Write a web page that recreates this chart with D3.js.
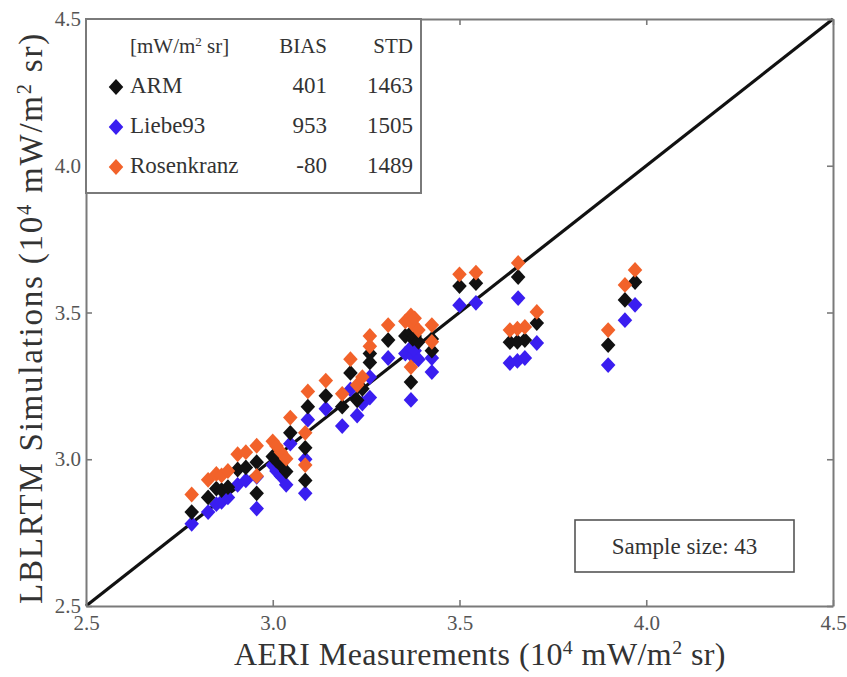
<!DOCTYPE html>
<html>
<head>
<meta charset="utf-8">
<script src="https://cdn.jsdelivr.net/npm/d3@7"></script>
<style>
  body { margin: 0; background: #fff; }
  text { font-family: "Liberation Serif", "Times New Roman", serif; }
</style>
</head>
<body>
<svg id="chart" width="847" height="677"></svg>
<script>
// AERI measured radiance vs. LBLRTM simulated radiance (10^4 mW/m^2 sr), 43 cases
const aeri = [2.783, 2.827, 2.849, 2.863, 2.880, 2.906, 2.928, 2.957, 2.957, 3.000,
              3.022, 3.036, 3.047, 3.087, 3.087, 3.094, 3.010, 3.142, 3.186, 3.208,
              3.226, 3.240, 3.260, 3.260, 3.309, 3.355, 3.370, 3.375, 3.370, 3.380,
              3.390, 3.426, 3.426, 3.500, 3.544, 3.657, 3.635, 3.675, 3.707, 3.898,
              3.943, 3.970, 3.655];
const arm = [2.820, 2.870, 2.900, 2.895, 2.905, 2.965, 2.972, 2.990, 2.884, 3.009,
             2.980, 2.958, 3.090, 3.039, 2.928, 3.179, 2.995, 3.216, 3.179, 3.294,
             3.201, 3.240, 3.360, 3.330, 3.406, 3.420, 3.430, 3.410, 3.263, 3.420,
             3.400, 3.410, 3.370, 3.590, 3.600, 3.621, 3.399, 3.406, 3.464, 3.389,
             3.543, 3.604, 3.400];
const liebe93 = [2.780, 2.820, 2.847, 2.855, 2.870, 2.913, 2.928, 2.940, 2.832, 2.980,
                 2.943, 2.913, 3.053, 3.000, 2.884, 3.135, 2.960, 3.172, 3.113, 3.238,
                 3.149, 3.190, 3.280, 3.210, 3.345, 3.360, 3.380, 3.350, 3.202, 3.370,
                 3.340, 3.345, 3.297, 3.525, 3.533, 3.549, 3.328, 3.345, 3.396, 3.321,
                 3.474, 3.526, 3.335];
const rosenkranz = [2.880, 2.930, 2.950, 2.945, 2.960, 3.017, 3.024, 3.046, 2.943, 3.061,
                    3.024, 3.002, 3.142, 3.090, 2.980, 3.231, 3.045, 3.268, 3.223, 3.341,
                    3.253, 3.280, 3.420, 3.385, 3.457, 3.470, 3.490, 3.460, 3.314, 3.480,
                    3.440, 3.457, 3.400, 3.630, 3.636, 3.669, 3.440, 3.451, 3.502, 3.440,
                    3.594, 3.645, 3.445];

const seriesNames = ["ARM", "Liebe93", "Rosenkranz"];
const seriesBias = [401, 953, -80];
const seriesStd = [1463, 1505, 1489];
const axisTicks = [2.5, 3.0, 3.5, 4.0, 4.5];
const sampleSize = 43;

const colors = { "ARM": "#111111", "Liebe93": "#3a1ef0", "Rosenkranz": "#f2622a" };
const seriesValues = { "ARM": arm, "Liebe93": liebe93, "Rosenkranz": rosenkranz };

const svg = d3.select("#chart");
const plotLeft = 86, plotRight = 833, plotTop = 19, plotBottom = 606;

const x = d3.scaleLinear().domain([2.5, 4.5]).range([plotLeft, plotRight]);
const y = d3.scaleLinear().domain([2.5, 4.5]).range([plotBottom, plotTop]);

// Diamond marker
const diamond = {
  draw(ctx, size) {
    const r = Math.sqrt(size / 2);
    const w = r * 0.92;
    ctx.moveTo(0, -r);
    ctx.lineTo(w, 0);
    ctx.lineTo(0, r);
    ctx.lineTo(-w, 0);
    ctx.closePath();
  }
};
const symbol = d3.symbol().type(diamond).size(125);

// 1:1 line
const diag = d3.line().x(d => x(d)).y(d => y(d));
svg.append("path")
  .attr("d", diag(x.domain()))
  .attr("stroke", "#111").attr("stroke-width", 3.2).attr("fill", "none");

// Scatter points: Liebe93 underneath, then ARM, then Rosenkranz
["Liebe93", "ARM", "Rosenkranz"].forEach(name => {
  svg.append("g")
    .selectAll("path")
    .data(aeri.map((a, i) => [a, seriesValues[name][i]]))
    .join("path")
    .attr("transform", d => `translate(${x(d[0])},${y(d[1])})`)
    .attr("d", symbol)
    .attr("fill", colors[name]);
});

// Axes with inward ticks on all four sides
const fmt = d3.format(".1f");
const axisColor = "#7a7a7a";
function styleAxis(g) {
  g.select(".domain").attr("stroke", axisColor).attr("stroke-width", 2);
  g.selectAll(".tick line").attr("stroke", axisColor).attr("stroke-width", 1.6);
  g.selectAll(".tick text").attr("fill", "#555").attr("font-size", 21)
    .attr("font-family", "'Liberation Serif', serif");
}
svg.append("g").attr("transform", `translate(0,${plotBottom})`)
  .call(d3.axisBottom(x).tickValues(axisTicks).tickFormat(fmt).tickSizeInner(-6).tickSizeOuter(0).tickPadding(9))
  .call(styleAxis);
svg.append("g").attr("transform", `translate(0,${plotTop})`)
  .call(d3.axisTop(x).tickValues(axisTicks).tickFormat("").tickSizeInner(-6).tickSizeOuter(0))
  .call(styleAxis);
svg.append("g").attr("transform", `translate(${plotLeft},0)`)
  .call(d3.axisLeft(y).tickValues(axisTicks).tickFormat(fmt).tickSizeInner(-6).tickSizeOuter(0).tickPadding(5))
  .call(styleAxis);
svg.append("g").attr("transform", `translate(${plotRight},0)`)
  .call(d3.axisRight(y).tickValues(axisTicks).tickFormat("").tickSizeInner(-6).tickSizeOuter(0))
  .call(styleAxis);

// Axis titles with superscripts
function unitTitle(g, pre) {
  g.append("tspan").text(pre + "(10");
  g.append("tspan").attr("baseline-shift", "super").attr("font-size", "0.62em").text("4");
  g.append("tspan").text(" mW/m");
  g.append("tspan").attr("baseline-shift", "super").attr("font-size", "0.62em").text("2");
  g.append("tspan").text(" sr)");
}
function fitWidth(t, target) {
  const n = t.text().length;
  const w = t.node().getComputedTextLength();
  t.attr("letter-spacing", ((target - w) / n).toFixed(2));
}
const xt = svg.append("text")
  .attr("x", 480).attr("y", 665).attr("text-anchor", "middle")
  .attr("font-size", 32).attr("fill", "#333");
unitTitle(xt, "AERI Measurements ");
fitWidth(xt, 492);

const yt = svg.append("text")
  .attr("transform", "translate(42,318) rotate(-90)")
  .attr("text-anchor", "middle")
  .attr("font-size", 33).attr("fill", "#333");
unitTitle(yt, "LBLRTM Simulations ");
fitWidth(yt, 572);

// Legend table
const lg = svg.append("g");
lg.append("rect")
  .attr("x", plotLeft).attr("y", plotTop).attr("width", 421 - plotLeft).attr("height", 193 - plotTop)
  .attr("fill", "#fff").attr("stroke", axisColor).attr("stroke-width", 2);
const hdr = lg.append("text").attr("x", 130).attr("y", 53)
  .attr("font-size", 21).attr("fill", "#333");
hdr.append("tspan").text("[mW/m");
hdr.append("tspan").attr("baseline-shift", "super").attr("font-size", "0.62em").text("2");
hdr.append("tspan").text(" sr]");
lg.append("text").attr("x", 327).attr("y", 53).attr("text-anchor", "end")
  .attr("font-size", 21).attr("fill", "#333").text("BIAS");
lg.append("text").attr("x", 413).attr("y", 53).attr("text-anchor", "end")
  .attr("font-size", 21).attr("fill", "#333").text("STD");

const rowY = d3.scalePoint().domain(seriesNames).range([93, 173]);
seriesNames.forEach((name, i) => {
  const by = rowY(name);
  lg.append("path")
    .attr("transform", `translate(116,${by - 6})`)
    .attr("d", symbol)
    .attr("fill", colors[name]);
  lg.append("text").attr("x", 130).attr("y", by)
    .attr("font-size", 23).attr("fill", "#333").text(name);
  lg.append("text").attr("x", 327).attr("y", by).attr("text-anchor", "end")
    .attr("font-size", 23).attr("fill", "#333").text(seriesBias[i]);
  lg.append("text").attr("x", 413).attr("y", by).attr("text-anchor", "end")
    .attr("font-size", 23).attr("fill", "#333").text(seriesStd[i]);
});

// Sample size box
const sb = svg.append("g");
sb.append("rect")
  .attr("x", 575).attr("y", 520).attr("width", 219).attr("height", 52)
  .attr("fill", "#fff").attr("stroke", "#555").attr("stroke-width", 1.6);
sb.append("text").attr("x", 684.5).attr("y", 554).attr("text-anchor", "middle")
  .attr("font-size", 23).attr("fill", "#333").text("Sample size: " + sampleSize);
</script>
</body>
</html>
